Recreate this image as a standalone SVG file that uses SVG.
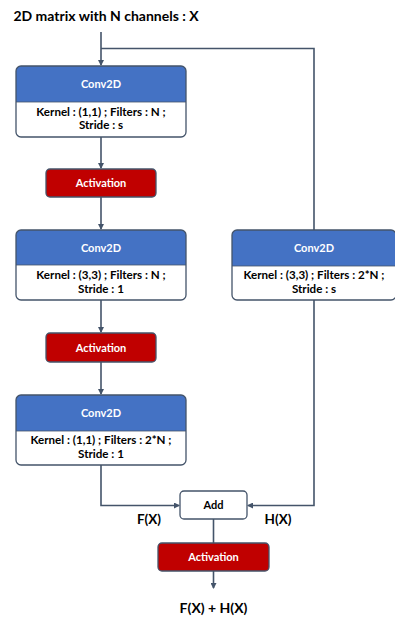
<svg xmlns="http://www.w3.org/2000/svg" width="395" height="622" viewBox="0 0 395 622">
<style>
text{font-family:Lato,"Open Sans","Liberation Sans",sans-serif;font-weight:bold;text-anchor:middle}
.frame{fill:#fff;stroke:#44546A;stroke-width:1.3}
.hdr{fill:#4472C4}
.act{fill:#C00000;stroke:#44546A;stroke-width:1.3}
.w{fill:#fff;font-size:11px}
.b{fill:#000;font-size:11.6px}
.lbl{fill:#000;font-size:13.5px}
.ln{fill:none;stroke:#44546A;stroke-width:1.6}
</style>
<defs>
<marker id="ah" markerWidth="6" markerHeight="6" refX="5" refY="3" orient="auto" markerUnits="userSpaceOnUse">
<path d="M0,0 L6,3 L0,6 Z" fill="#44546A"/>
</marker>
<clipPath id="c1"><rect x="16" y="66" width="170" height="71" rx="5"/></clipPath>
<clipPath id="c2"><rect x="16" y="230" width="170" height="70" rx="5"/></clipPath>
<clipPath id="c3"><rect x="16" y="395" width="170" height="70" rx="5"/></clipPath>
<clipPath id="c4"><rect x="232" y="230" width="164" height="70" rx="5"/></clipPath>
</defs>
<text class="lbl" x="106" y="21" style="font-size:14px">2D matrix with N channels : X</text>
<g id="connectors">
<path class="ln" d="M101,32 V65" marker-end="url(#ah)"/>
<path class="ln" d="M101,48.5 H314 V230"/>
<path class="ln" d="M101,137 V168" marker-end="url(#ah)"/>
<path class="ln" d="M101,197 V229" marker-end="url(#ah)"/>
<path class="ln" d="M101,300 V332" marker-end="url(#ah)"/>
<path class="ln" d="M101,362 V394" marker-end="url(#ah)"/>
<path class="ln" d="M101,465 V505.5 H179" marker-end="url(#ah)"/>
<path class="ln" d="M314,300 V505.5 H248" marker-end="url(#ah)"/>
<path class="ln" d="M213.5,519 V543"/>
<path class="ln" d="M213.5,571 V588" marker-end="url(#ah)"/>
</g>
<g id="conv1">
<rect class="hdr" x="16" y="66" width="170" height="36" clip-path="url(#c1)"/>
<rect class="frame" x="16" y="66" width="170" height="71" rx="5" style="fill:none"/>
<line x1="16" y1="102" x2="186" y2="102" stroke="#44546A" stroke-width="0.8"/>
<text class="w" x="101" y="88">Conv2D</text>
<text class="b" x="101" y="115.5">Kernel : (1,1) ; Filters : N ;</text>
<text class="b" x="101" y="129">Stride : s</text>
</g>
<g id="act1">
<rect class="act" x="46" y="169" width="110" height="28" rx="4"/>
<text class="w" x="101" y="187">Activation</text>
</g>
<g id="conv2">
<rect class="hdr" x="16" y="230" width="170" height="35" clip-path="url(#c2)"/>
<rect class="frame" x="16" y="230" width="170" height="70" rx="5" style="fill:none"/>
<line x1="16" y1="265" x2="186" y2="265" stroke="#44546A" stroke-width="0.8"/>
<text class="w" x="101" y="251.5">Conv2D</text>
<text class="b" x="101" y="279">Kernel : (3,3) ; Filters : N ;</text>
<text class="b" x="101" y="293">Stride : 1</text>
</g>
<g id="act2">
<rect class="act" x="46" y="333" width="110" height="29" rx="4"/>
<text class="w" x="101" y="351.5">Activation</text>
</g>
<g id="conv3">
<rect class="hdr" x="16" y="395" width="170" height="36" clip-path="url(#c3)"/>
<rect class="frame" x="16" y="395" width="170" height="70" rx="5" style="fill:none"/>
<line x1="16" y1="431" x2="186" y2="431" stroke="#44546A" stroke-width="0.8"/>
<text class="w" x="101" y="416.5">Conv2D</text>
<text class="b" x="101" y="444">Kernel : (1,1) ; Filters : 2*N ;</text>
<text class="b" x="101" y="458">Stride : 1</text>
</g>
<g id="conv4">
<rect class="hdr" x="232" y="230" width="164" height="36" clip-path="url(#c4)"/>
<rect class="frame" x="232" y="230" width="164" height="70" rx="5" style="fill:none"/>
<line x1="232" y1="266" x2="396" y2="266" stroke="#44546A" stroke-width="0.8"/>
<text class="w" x="314" y="251.5">Conv2D</text>
<text class="b" x="314" y="279">Kernel : (3,3) ; Filters : 2*N ;</text>
<text class="b" x="314" y="293">Stride : s</text>
</g>
<g id="add">
<rect class="frame" x="180" y="491" width="67" height="28" rx="4"/>
<text class="b" x="213.5" y="509" style="font-size:11px">Add</text>
</g>
<text class="lbl" x="149" y="524">F(X)</text>
<text class="lbl" x="278" y="524">H(X)</text>
<g id="act3">
<rect class="act" x="158" y="543" width="111" height="28" rx="4"/>
<text class="w" x="213.5" y="561">Activation</text>
</g>
<text class="lbl" x="213.5" y="613" style="font-size:14px">F(X) + H(X)</text>
</svg>
